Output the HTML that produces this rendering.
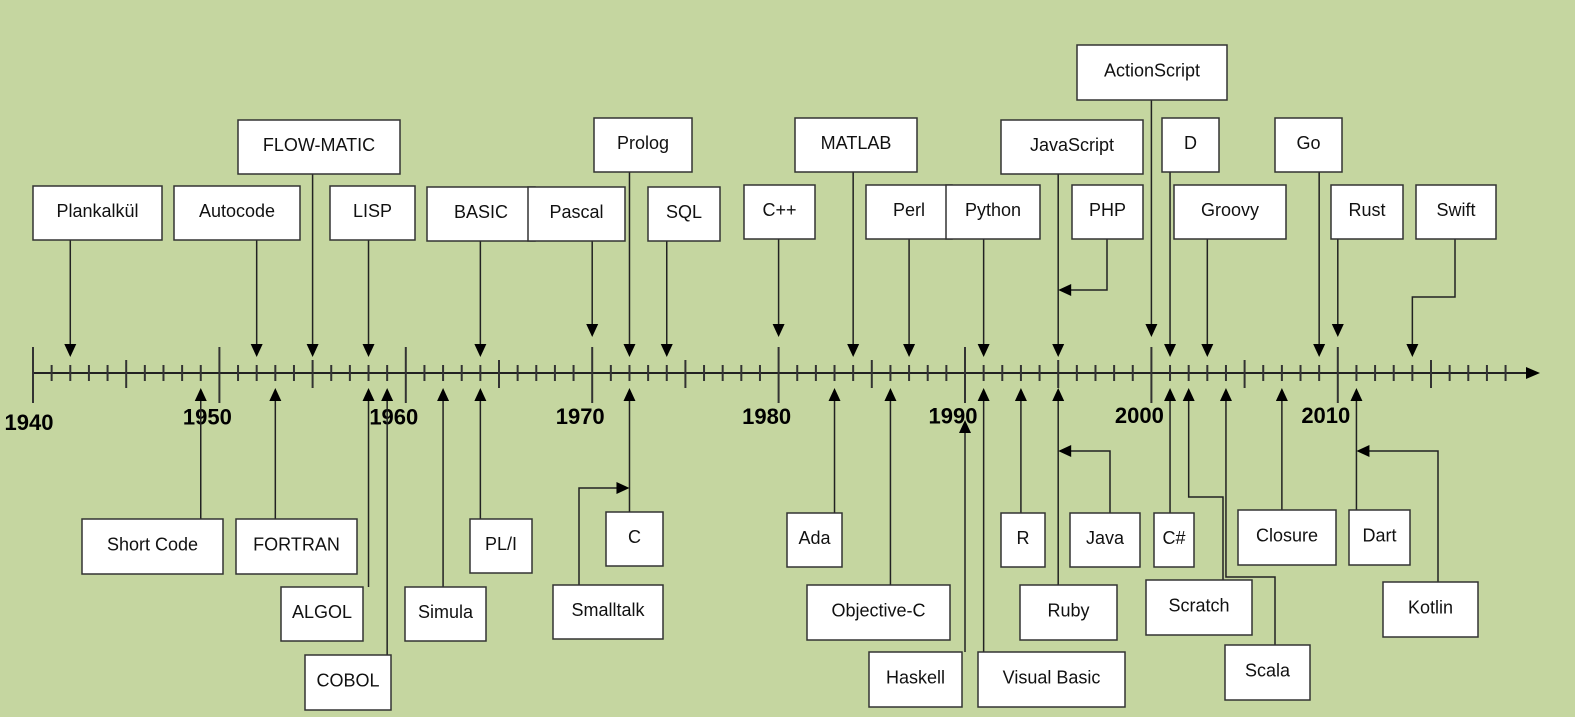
<!DOCTYPE html>
<html><head><meta charset="utf-8"><style>
html,body{margin:0;padding:0;background:#c5d6a0;width:1575px;height:717px;overflow:hidden;}
svg{display:block;font-family:"Liberation Sans",sans-serif;}
</style></head><body>
<svg id="c" width="1575" height="717" viewBox="0 0 1575 717"></svg>
<script>
const decades=[1940,1950,1960,1970,1980,1990,2000,2010];
const decadeLabels=["1940","1950","1960","1970","1980","1990","2000","2010"];
const topNames=["Plankalkül","Autocode","FLOW-MATIC","LISP","BASIC","Pascal","Prolog","SQL","C++","MATLAB","Perl","Python","JavaScript","PHP","ActionScript","D","Groovy","Go","Rust","Swift"];
const topYears=[1942,1952,1955,1958,1964,1970,1972,1974,1980,1984,1987,1991,1995,1995,2000,2001,2003,2009,2010,2014];
const botNames=["Short Code","FORTRAN","ALGOL","COBOL","Simula","PL/I","C","Smalltalk","Ada","Objective-C","Haskell","Visual Basic","R","Ruby","Java","C#","Scratch","Scala","Closure","Dart","Kotlin"];
const botYears=[1949,1953,1958,1959,1962,1964,1972,1972,1983,1986,1990,1991,1993,1995,1995,2001,2002,2004,2007,2011,2011];
// box layout [x,y,w,h, stemX(null=straight), elbowY]
const topBoxes=[[33,186,129,54],[174,186,126,54],[238,120,162,54],[330,186,85,54],[427,187,108,54],[528,187,97,54],[594,118,98,54],[648,187,72,54],[744,185,71,54],[795,118,122,54],[866,185,86,54],[946,185,94,54],[1001,120,142,54],[1072,185,71,54,1107,290],[1077,45,150,55],[1162,118,57,54],[1174,185,112,54],[1275,118,67,54],[1331,185,72,54],[1416,185,80,54,1455,297]];
const botBoxes=[[82,519,141,55],[236,519,121,55],[281,587,82,54],[305,655,86,55],[405,587,81,54],[470,519,62,54],[606,512,57,54],[553,585,110,54,579,488,"side"],[787,513,55,54],[807,585,143,55],[869,652,93,55],[978,652,147,55],[1001,513,44,54],[1020,585,97,55],[1070,513,70,54,1110,451,"side"],[1154,513,40,54],[1146,580,106,55,1223,497],[1225,645,85,55,1275,577],[1238,510,98,55],[1349,510,61,55],[1383,582,95,55,1438,451,"side"]];
const X0=33,Y0=1940,S=18.64,AY=373;
const xs=y=>X0+(y-Y0)*S;
const svg=document.getElementById('c');
const NS="http://www.w3.org/2000/svg";
function el(t,a,p){const e=document.createElementNS(NS,t);for(const k in a)e.setAttribute(k,a[k]);(p||svg).appendChild(e);return e;}
const g=el('g',{});


el('line',{x1:X0,y1:AY,x2:1528,y2:AY,stroke:'#222','stroke-width':2},g);
el('polygon',{points:`1540,${AY} 1526,${AY-6} 1526,${AY+6}`,fill:'#000'},g);
for(let y=1940;y<=2020;y++){const x=xs(y);if(x>1520)break;let a=8,b=8;if(y%10==0){a=26;b=30}else if(y%5==0){a=13;b=15}
el('line',{x1:x,y1:AY-a,x2:x,y2:AY+b,stroke:'#333','stroke-width':2},g);}
decades.forEach((d,i)=>{const t=el('text',{x:xs(d)+(i==0?-4:-12),y:i==0?430:425-i*0.3,'font-size':22,'font-weight':'bold','text-anchor':'middle',fill:'#000'});t.textContent=decadeLabels[i];

});
function head(x,y,dir){let p;if(dir=='down')p=`${x},${y} ${x-6},${y-13} ${x+6},${y-13}`;else if(dir=='up')p=`${x},${y} ${x-6},${y+13} ${x+6},${y+13}`;else if(dir=='left')p=`${x},${y} ${x+13},${y-6} ${x+13},${y+6}`;else p=`${x},${y} ${x-13},${y-6} ${x-13},${y+6}`;el('polygon',{points:p,fill:'#000'});}
function box(b,name){const r=el('rect',{x:b[0],y:b[1],width:b[2],height:b[3],fill:'#fff',stroke:'#333','stroke-width':1.5});


const t=el('text',{x:b[0]+b[2]/2,y:b[1]+b[3]/2+4,'font-size':18,'text-anchor':'middle',fill:'#111'});t.textContent=name;

}
topNames.forEach((n,i)=>{const b=topBoxes[i],x=xs(topYears[i]);const dec=Math.abs(topYears[i]%10)<0.01;const tip=dec?337:357;
const st={stroke:'#222','stroke-width':1.5,fill:'none'};
if(b[4]!=null){const sx=b[4],ey=b[5];
if(n=="PHP"){el('polyline',Object.assign({points:`${sx},${b[1]+b[3]} ${sx},${ey} ${x+12},${ey}`},st));head(x,ey,'left');}
else{el('polyline',Object.assign({points:`${sx},${b[1]+b[3]} ${sx},${ey} ${x},${ey} ${x},${tip-12}`},st));head(x,tip,'down');}}
else{el('line',Object.assign({x1:x,y1:b[1]+b[3],x2:x,y2:tip-12},st));head(x,tip,'down');}
box(b,n);});
botNames.forEach((n,i)=>{const b=botBoxes[i],x=xs(botYears[i]);const dec=Math.abs(botYears[i]%10)<0.01;const tip=dec?420:388;
const st={stroke:'#222','stroke-width':1.5,fill:'none'};
if(b[4]!=null){const sx=b[4],ey=b[5];
if(b[6]=="side"){const dir=sx<x?'right':'left';el('polyline',Object.assign({points:`${sx},${b[1]} ${sx},${ey} ${dir=='right'?x-12:x+12},${ey}`},st));head(x,ey,dir);}
else{el('polyline',Object.assign({points:`${sx},${b[1]} ${sx},${ey} ${x},${ey} ${x},${tip+12}`},st));head(x,tip,'up');}}
else{el('line',Object.assign({x1:x,y1:b[1],x2:x,y2:tip+12},st));head(x,tip,'up');}
box(b,n);});
</script>
</body></html>
